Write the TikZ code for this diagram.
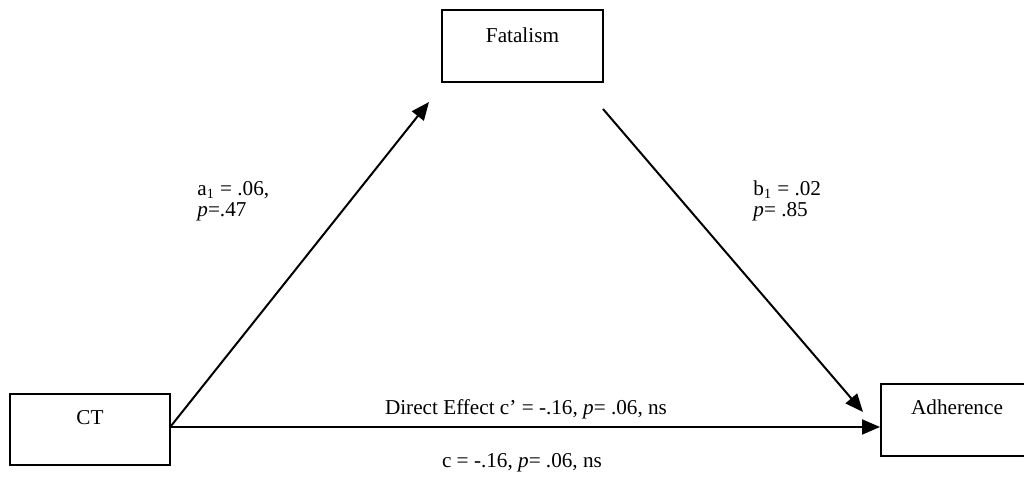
\documentclass[tikz,border=0pt]{standalone}
\usepackage{fontspec}
\setmainfont{Liberation Serif}
\usetikzlibrary{arrows.meta}
\begin{document}
\begin{tikzpicture}[x=0.5pt,y=-0.5pt,
  every node/.style={font=\fontsize{10.6}{11}\selectfont},
  box/.style={draw,line width=1pt,minimum width=80pt,minimum height=36pt,inner sep=0pt},
  lbl/.style={inner sep=0pt},
  arr/.style={line width=1pt,-{Triangle[length=9pt,width=7.5pt]}}]
\useasboundingbox (0,0) rectangle (1024,477);
\node[box,minimum width=80.5pt] (fat) at (522.5,46) {};
\node[lbl] (fatT) at (522.5,35) {Fatalism};
\node[box,minimum height=35.5pt] (ct) at (90,429.5) {};
\node[lbl] (ctT) at (90,418) {CT};
\node[box,minimum width=76pt] (adh) at (957,420) {};
\node[lbl] (adhT) at (957,407) {Adherence};
\coordinate (ctE) at (171,426);
\coordinate (tipA) at (429,102);
\coordinate (fatS) at (603,109);
\coordinate (tipB) at (863,412);
\draw[arr] (ctE) -- (tipA);
\draw[arr] (fatS) -- (tipB);
\draw[arr] (ctE |- 0,427) -- (adh.west |- 0,427);
\node[lbl,anchor=west,align=left] (a1) at (197,201) {a\textsubscript{\fontsize{7}{7}\selectfont 1} = .06,\\[-0.5pt]\textit{p}=.47};
\node[lbl,anchor=west,align=left] (b1) at (753,201) {b\textsubscript{\fontsize{7}{7}\selectfont 1} = .02\\[-0.5pt]\textit{p}= .85};
\node[lbl] (de) at (526,409) {Direct Effect c’ = -.16, \textit{p}= .06, ns};
\node[lbl] (tot) at (522,463) {c = -.16, \textit{p}= .06, ns};
\end{tikzpicture}
\end{document}
